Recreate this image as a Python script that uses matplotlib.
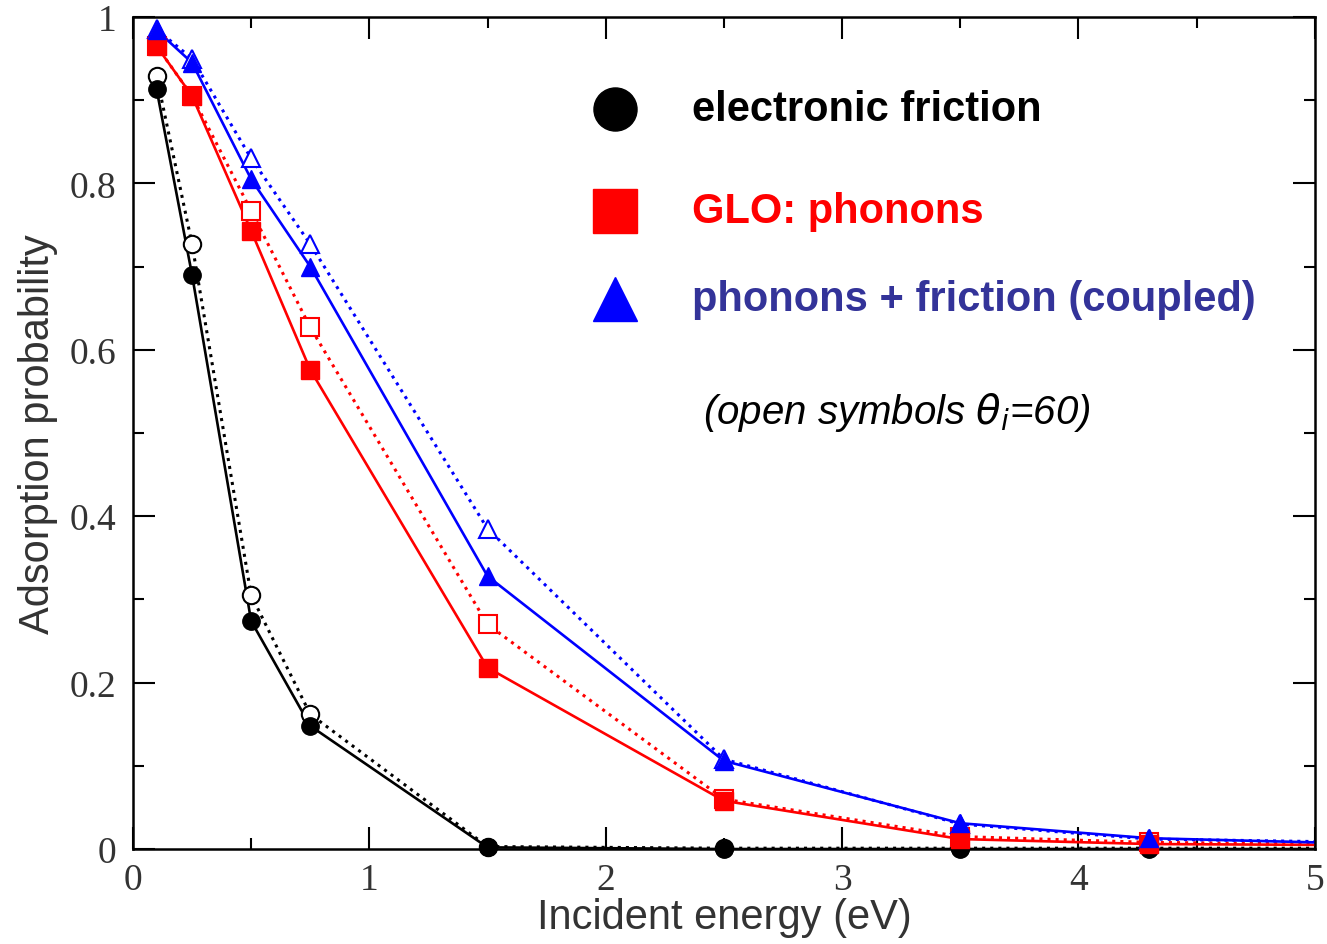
import matplotlib.pyplot as plt
from matplotlib.ticker import MultipleLocator

# incident energies (eV)
energy = [0.1, 0.25, 0.5, 0.75, 1.5, 2.5, 3.5, 4.3, 5.0]

# normal incidence (filled symbols)
ef_normal = [0.913, 0.690, 0.274, 0.148, 0.002, 0.0, 0.0, 0.0, 0.0]
glo_normal = [0.965, 0.905, 0.743, 0.576, 0.218, 0.058, 0.012, 0.006, 0.005]
coupled_normal = [0.984, 0.945, 0.805, 0.700, 0.328, 0.106, 0.031, 0.013, 0.008]

# theta_i = 60 (open symbols)
ef_60 = [0.929, 0.727, 0.305, 0.162, 0.003, 0.001, 0.001, 0.001, 0.001]
glo_60 = [0.965, 0.905, 0.767, 0.627, 0.270, 0.060, 0.015, 0.008, 0.006]
coupled_60 = [0.985, 0.950, 0.830, 0.727, 0.385, 0.108, 0.030, 0.012, 0.009]

labels = ['electronic friction', 'GLO: phonons', 'phonons + friction (coupled)']
label_colors = ['black', '#ff0000', '#333399']
colors = ['black', '#ff0000', '#0000ff']
markers = ['o', 's', '^']

fig = plt.figure(figsize=(13.27, 9.45), dpi=100)
ax = fig.add_axes([0.1002, 0.1005, 0.8906, 0.8805])

normal = [ef_normal, glo_normal, coupled_normal]
oblique = [ef_60, glo_60, coupled_60]
for y0, y60, c, m in zip(normal, oblique, colors, markers):
    ax.plot(energy[:-1], y60[:-1], ls='none', marker=m, ms=12.5,
            mfc='white', mec=c, mew=1.5, zorder=3, clip_on=False)
    ax.plot(energy, y60, ls=':', color=c, lw=2.2, zorder=2)
    ax.plot(energy, y0, ls='-', color=c, lw=1.9, zorder=2)
    ax.plot(energy[:-1], y0[:-1], ls='none', marker=m, ms=12.5,
            color=c, zorder=4, clip_on=False)

ax.set_xlim(0, 5)
ax.set_ylim(0, 1)
ax.xaxis.set_minor_locator(MultipleLocator(0.5))
ax.yaxis.set_minor_locator(MultipleLocator(0.1))
ax.set_xticks([0, 1, 2, 3, 4, 5])
ax.set_xticklabels(['0', '1', '2', '3', '4', '5'])
ax.set_yticks([0, 0.2, 0.4, 0.6, 0.8, 1.0])
ax.set_yticklabels(['0', '0.2', '0.4', '0.6', '0.8', '1'])
ax.tick_params(which='both', direction='in', top=True, right=True,
               labelsize=27, labelcolor='#333333', width=1.5)
ax.tick_params(which='major', length=16)
ax.tick_params(axis='y', which='major', pad=12)
ax.tick_params(axis='x', which='major', pad=10)
ax.tick_params(which='minor', length=8)
for lab in ax.get_xticklabels() + ax.get_yticklabels():
    lab.set_fontname('Liberation Serif')
for s in ax.spines.values():
    s.set_linewidth(1.8)

ax.set_xlabel('Incident energy (eV)', fontsize=30, color='#333333',
              fontname='Liberation Sans', labelpad=0)
ax.set_ylabel('Adsorption probability', fontsize=30, color='#333333',
              fontname='Liberation Sans', labelpad=8)

# legend drawn by hand
ys = [0.889, 0.767, 0.661]
for y, lab, c, lc, m in zip(ys, labels, colors, label_colors, markers):
    ax.plot([0.408], [y], marker=m, ms=31, color=c, ls='none',
            transform=ax.transAxes, clip_on=False)
    ax.text(0.473, y, lab, transform=ax.transAxes, color=lc,
            fontsize=30, fontweight='bold', fontname='Liberation Sans',
            va='center', ha='left')
ax.text(0.482, 0.526, r'(open symbols $\theta_i$=60)', transform=ax.transAxes,
        fontsize=29, style='italic', fontname='Liberation Sans',
        va='center', ha='left')

plt.savefig('out.png', dpi=100)
